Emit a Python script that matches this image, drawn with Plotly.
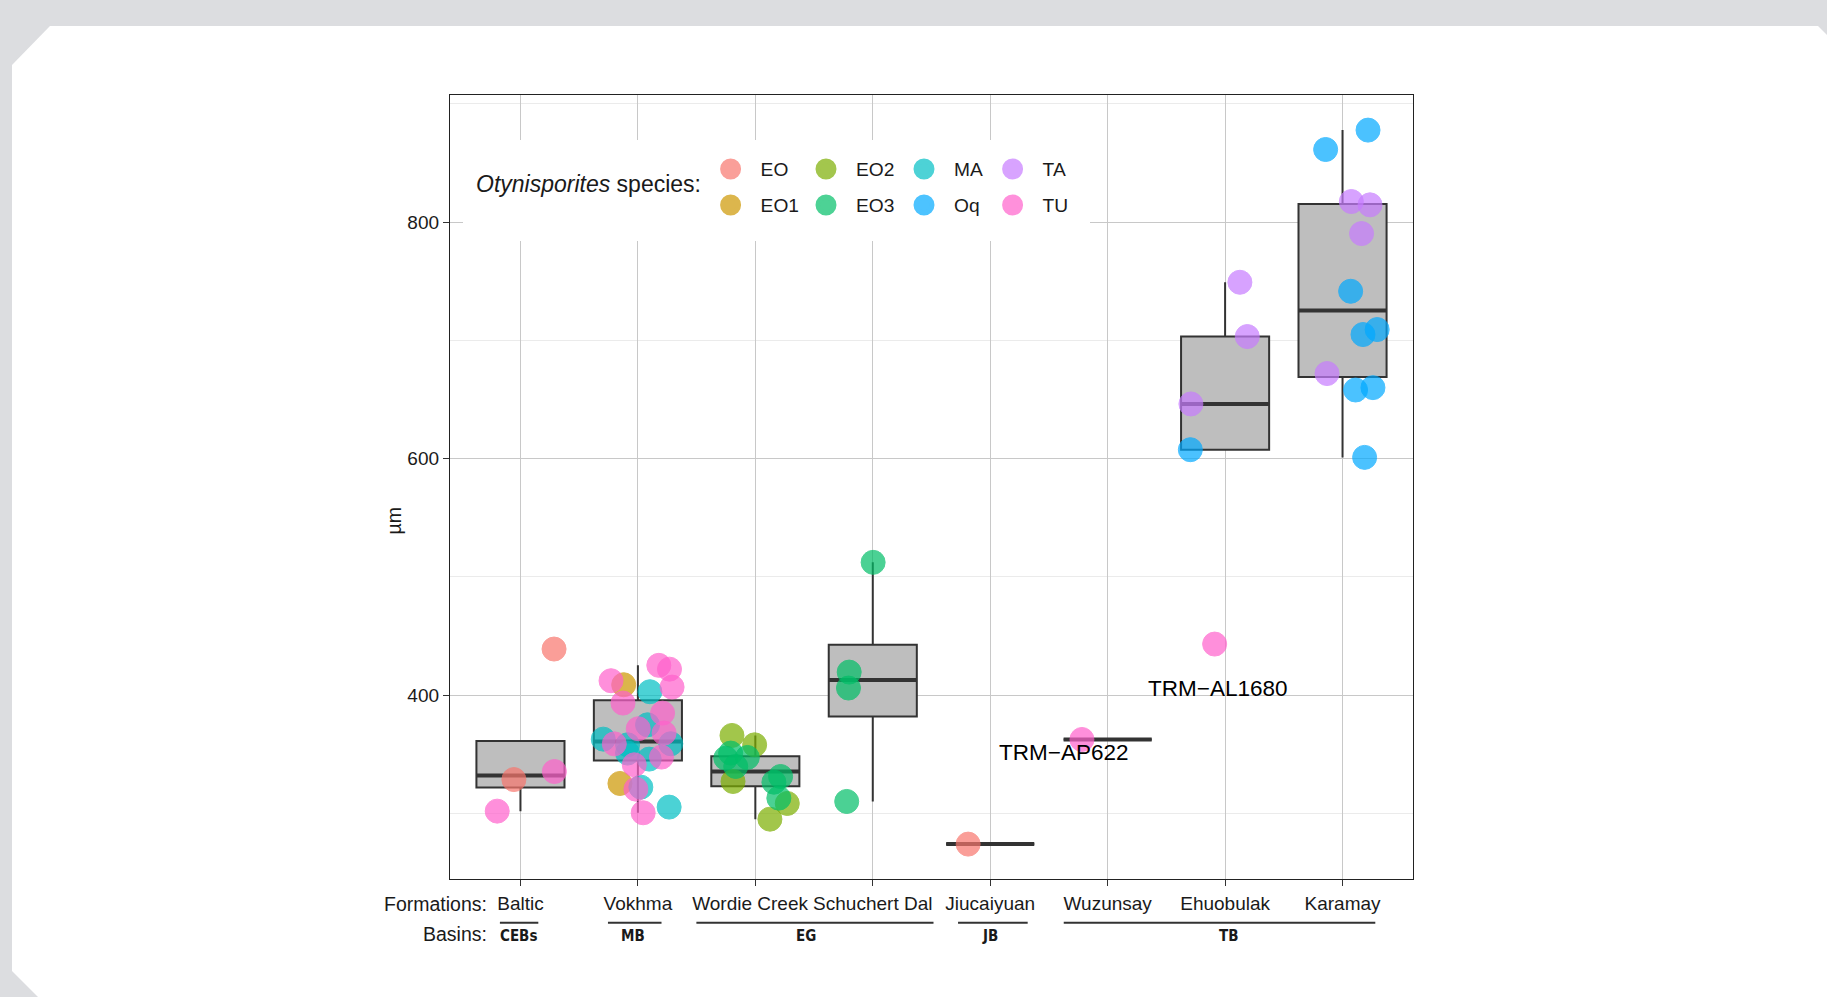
import numpy as np
import plotly.graph_objects as go

# ---------------- data ----------------
formations = ["Baltic", "Vokhma", "Wordie Creek", "Schuchert Dal",
              "Jiucaiyuan", "Wuzunsay", "Ehuobulak", "Karamay"]
species = ["EO", "EO1", "EO2", "EO3", "MA", "Oq", "TA", "TU"]
species_colors = ["#F8766D", "#CD9600", "#7CAE00", "#00BE67",
                  "#00BFC4", "#00A9FF", "#C77CFF", "#FF61CC"]

basins = ["CEBs", "MB", "EG", "JB", "TB"]
basin_first = ["Baltic", "Vokhma", "Wordie Creek", "Jiucaiyuan", "Wuzunsay"]
basin_last = ["Baltic", "Vokhma", "Schuchert Dal", "Jiucaiyuan", "Karamay"]

# individual specimens (formation, species, size in µm, horizontal jitter)
pt_formation = (["Baltic"] * 4 + ["Vokhma"] * 24 + ["Wordie Creek"] * 12 +
                ["Schuchert Dal"] * 4 + ["Jiucaiyuan"] + ["Wuzunsay"] +
                ["Ehuobulak"] * 5 + ["Karamay"] * 12)
pt_species = [
    "EO", "TU", "EO", "TU",
    "TU", "EO1", "TU", "TU", "TU", "MA", "TU", "TU", "TU", "MA", "TU", "MA",
    "TU", "MA", "MA", "MA", "MA", "TU", "TU", "EO1", "TU", "MA", "TU", "MA",
    "EO2", "EO2", "EO3", "EO3", "EO3", "EO3", "EO2", "EO3", "EO3", "EO3", "EO2", "EO2",
    "EO3", "EO3", "EO3", "EO3",
    "EO",
    "TU",
    "TU", "TA", "TA", "TA", "Oq",
    "Oq", "Oq", "TA", "TA", "TA", "Oq", "Oq", "Oq", "TA", "Oq", "Oq", "Oq",
]
pt_value = [
    439.0, 335.4, 328.6, 301.9,
    412.2, 408.8, 425.2, 422.0, 406.8, 402.9, 393.3, 384.8, 371.6, 374.9, 367.9, 362.8,
    358.8, 358.0, 358.9, 351.0, 345.9, 347.6, 341.1, 325.3, 320.5, 322.2, 300.5, 305.3,
    365.9, 358.0, 346.7, 351.0, 347.3, 339.7, 327.0, 326.4, 331.2, 312.9, 308.4, 295.1,
    512.3, 419.5, 406.0, 310.1,
    274.0,
    362.5,
    443.2, 749.2, 703.3, 646.3, 607.6,
    877.9, 861.5, 817.5, 814.7, 790.4, 741.6, 705.0, 709.2, 672.0, 658.1, 660.1, 601.1,
]
pt_jitter = [
    0.286, 0.289, -0.056, -0.198,
    -0.229, -0.121, 0.178, 0.269, 0.291, 0.102, -0.127, 0.210, 0.003, 0.082, 0.223, -0.295,
    -0.201, -0.088, 0.280, -0.088, 0.096, 0.201, -0.031, -0.153, -0.017, 0.025, 0.045, 0.266,
    -0.199, -0.006, -0.252, -0.210, -0.068, -0.167, -0.190, 0.158, 0.215, 0.200, 0.272, 0.124,
    0.003, -0.201, -0.207, -0.222,
    -0.188,
    -0.219,
    -0.089, 0.126, 0.189, -0.291, -0.296,
    0.217, -0.144, 0.075, 0.234, 0.162, 0.069, 0.174, 0.295, -0.132, 0.111, 0.259, 0.188,
]

specimen_labels = ["TRM\u2212AP622", "TRM\u2212AL1680"]
specimen_label_x = [5.626, 6.933]
specimen_label_y = [351.5, 405.7]

# ---------------- styling / layout constants ----------------
W_FIG, H_FIG = 1827, 997
ML, MR, MT, MB = 450, 414, 95, 118
PW, PH = W_FIG - ML - MR, H_FIG - MT - MB
FONT = "Liberation Sans, Arial, Helvetica, sans-serif"
NARROW = "Liberation Sans Narrow, DejaVu Sans Condensed, Liberation Sans, Arial"
INK = "#1a1a1a"
BOX_W = 0.75
ALPHA = 0.7
# small right padding on one crowded tick label, as in the original
TICK_PAD = {"Wordie Creek": "\u00a0\u00a0"}
# placement of the basin underlines / labels along the x axis (axis units)
basin_line_x0 = [0.825, 1.745, 2.498, 4.726, 5.626]
basin_line_x1 = [1.152, 2.201, 4.517, 5.319, 8.279]
basin_label_x = [0.985, 1.955, 3.43, 5.0, 7.03]


def px(xp):
    return (xp - ML) / PW


def py(yp):
    return 1 - (yp - MT) / PH


def blend(hexcol, a):
    h = hexcol.lstrip("#")
    r, g, b = (int(h[i:i + 2], 16) for i in (0, 2, 4))
    mix = lambda c: int(round(c * a + 255 * (1 - a)))
    return "#%02X%02X%02X" % (mix(r), mix(g), mix(b))


fidx = {f: i + 1 for i, f in enumerate(formations)}

# ---------------- box statistics from the specimens ----------------
q1s, meds, q3s, los, his = [], [], [], [], []
for f in formations:
    v = np.array([pt_value[i] for i in range(len(pt_value)) if pt_formation[i] == f])
    q1, med, q3 = np.percentile(v, [25, 50, 75])
    iqr = q3 - q1
    inside = v[(v >= q1 - 1.5 * iqr) & (v <= q3 + 1.5 * iqr)]
    q1s.append(q1); meds.append(med); q3s.append(q3)
    los.append(min(q1, inside.min())); his.append(max(q3, inside.max()))

xpos = [fidx[f] for f in formations]

fig = go.Figure()

fig.add_trace(go.Box(
    x=xpos, q1=q1s, median=meds, q3=q3s, lowerfence=los, upperfence=his,
    width=BOX_W, whiskerwidth=0, boxpoints=False,
    fillcolor="#bebebe", line=dict(color="#333333", width=2),
    showlegend=False, hoverinfo="skip",
))

# thicker median bars (ggplot fatten)
mx, my = [], []
for x, m in zip(xpos, meds):
    mx += [x - BOX_W / 2, x + BOX_W / 2, None]
    my += [m, m, None]
fig.add_trace(go.Scatter(x=mx, y=my, mode="lines",
                         line=dict(color="#333333", width=4),
                         showlegend=False, hoverinfo="skip"))

# jittered specimens
for s, c in zip(species, species_colors):
    idx = [i for i in range(len(pt_value)) if pt_species[i] == s]
    if not idx:
        continue
    fig.add_trace(go.Scatter(
        x=[fidx[pt_formation[i]] + pt_jitter[i] for i in idx],
        y=[pt_value[i] for i in idx],
        mode="markers", name=s, showlegend=False,
        marker=dict(size=24, color=c, opacity=ALPHA,
                    line=dict(color=c, width=1)),
    ))

# legend entries (two rows, column-major like the original)
row1 = ["EO", "EO2", "MA", "TA"]
row2 = ["EO1", "EO3", "Oq", "TU"]
col_w = [30.4, 33.0, 23.6, 30.0]
for s, c in zip(species, species_colors):
    row = 1 if s in row1 else 2
    col = (row1 if row == 1 else row2).index(s)
    bc = blend(c, ALPHA)
    fig.add_trace(go.Scatter(
        x=[None], y=[None], mode="markers", name=s,
        legend="legend" if row == 1 else "legend2",
        legendwidth=col_w[col],
        marker=dict(size=16, color=bc, line=dict(color=bc, width=7)),
    ))

leg_common = dict(orientation="h", xanchor="left", yanchor="middle",
                  x=px(700.6), bgcolor="rgba(0,0,0,0)", itemwidth=50,
                  font=dict(family=FONT, size=19.2, color=INK),
                  itemclick=False, itemdoubleclick=False)

shapes = []
# page background with cut corners
page = [(12, 65), (50, 26), (1818, 26), (1870, 78), (1870, 1050), (91, 1050), (12, 971)]
path = "M " + " L ".join("%.5f,%.5f" % (px(a), py(b)) for a, b in page) + " Z"
shapes.append(dict(type="path", xref="paper", yref="paper", path=path,
                   fillcolor="white", line=dict(width=0), layer="below"))
# legend key background
shapes.append(dict(type="rect", xref="paper", yref="paper",
                   x0=px(463), x1=px(1090), y0=py(241), y1=py(140),
                   fillcolor="white", line=dict(width=0), layer="above"))

annotations = [
    dict(text="<i>Otynisporites</i> species:", xref="paper", yref="paper",
         x=px(474), y=py(184), xanchor="left", yanchor="middle", showarrow=False,
         font=dict(family=FONT, size=23, color=INK)),
    dict(text="Formations:", xref="paper", yref="paper", x=px(489), y=py(904),
         xanchor="right", yanchor="middle", showarrow=False,
         font=dict(family=FONT, size=19.5, color=INK)),
    dict(text="Basins:", xref="paper", yref="paper", x=px(489), y=py(934.5),
         xanchor="right", yanchor="middle", showarrow=False,
         font=dict(family=FONT, size=19.5, color=INK)),
    dict(text="\u00b5m", xref="paper", yref="paper", x=px(393.5), y=py(521),
         xanchor="center", yanchor="middle", textangle=-90, showarrow=False,
         font=dict(family=FONT, size=19.5, color=INK)),
]
for t, x, y in zip(specimen_labels, specimen_label_x, specimen_label_y):
    annotations.append(dict(text=t, x=x, y=y, xref="x", yref="y", showarrow=False,
                            xanchor="center", yanchor="middle",
                            font=dict(family=FONT, size=22.5, color="black")))

for b, x0, x1, xl in zip(basins, basin_line_x0, basin_line_x1, basin_label_x):
    shapes.append(dict(type="line", xref="x", yref="paper", x0=x0, x1=x1,
                       y0=py(922.8), y1=py(922.8),
                       line=dict(color="#333333", width=2)))
    annotations.append(dict(text="<b>%s</b>" % b, xref="x", yref="paper",
                            x=xl, y=py(936),
                            xanchor="center", yanchor="middle", showarrow=False,
                            font=dict(family=NARROW, size=15, color=INK)))

fig.update_layout(
    width=W_FIG, height=H_FIG,
    margin=dict(l=ML, r=MR, t=MT, b=MB, pad=0),
    paper_bgcolor="#dcdde0", plot_bgcolor="white",
    font=dict(family=FONT, size=19, color=INK),
    legend=dict(y=py(169), **leg_common),
    legend2=dict(y=py(205), **leg_common),
    shapes=shapes, annotations=annotations,
    hovermode=False,
)
fig.update_xaxes(
    range=[0.4, 8.6], tickmode="array", tickvals=xpos,
    ticktext=[f + TICK_PAD.get(f, "") for f in formations],
    tickangle=0,
    showgrid=True, gridcolor="#c8c8c8", gridwidth=1, zeroline=False,
    showline=True, mirror=True, linecolor="#222222", linewidth=1.3,
    ticks="outside", ticklen=6, tickwidth=1.2, tickcolor="#333333",
    tickfont=dict(family=FONT, size=19, color=INK), ticklabelstandoff=1,
)
fig.update_yaxes(
    range=[244.5, 907.6], tickmode="array", tickvals=[400, 600, 800],
    showgrid=True, gridcolor="#c8c8c8", gridwidth=1, zeroline=False,
    minor=dict(tickvals=[300, 500, 700, 900], showgrid=True, gridcolor="#ebebeb",
               gridwidth=1, ticks=""),
    showline=True, mirror=True, linecolor="#222222", linewidth=1.3,
    ticks="outside", ticklen=6, tickwidth=1.2, tickcolor="#333333",
    tickfont=dict(family=FONT, size=19, color=INK),
)

fig.write_html("out.html", config={"displayModeBar": False},
               post_script="document.body.style.margin='0px';"
                           "document.body.style.overflow='hidden';")
